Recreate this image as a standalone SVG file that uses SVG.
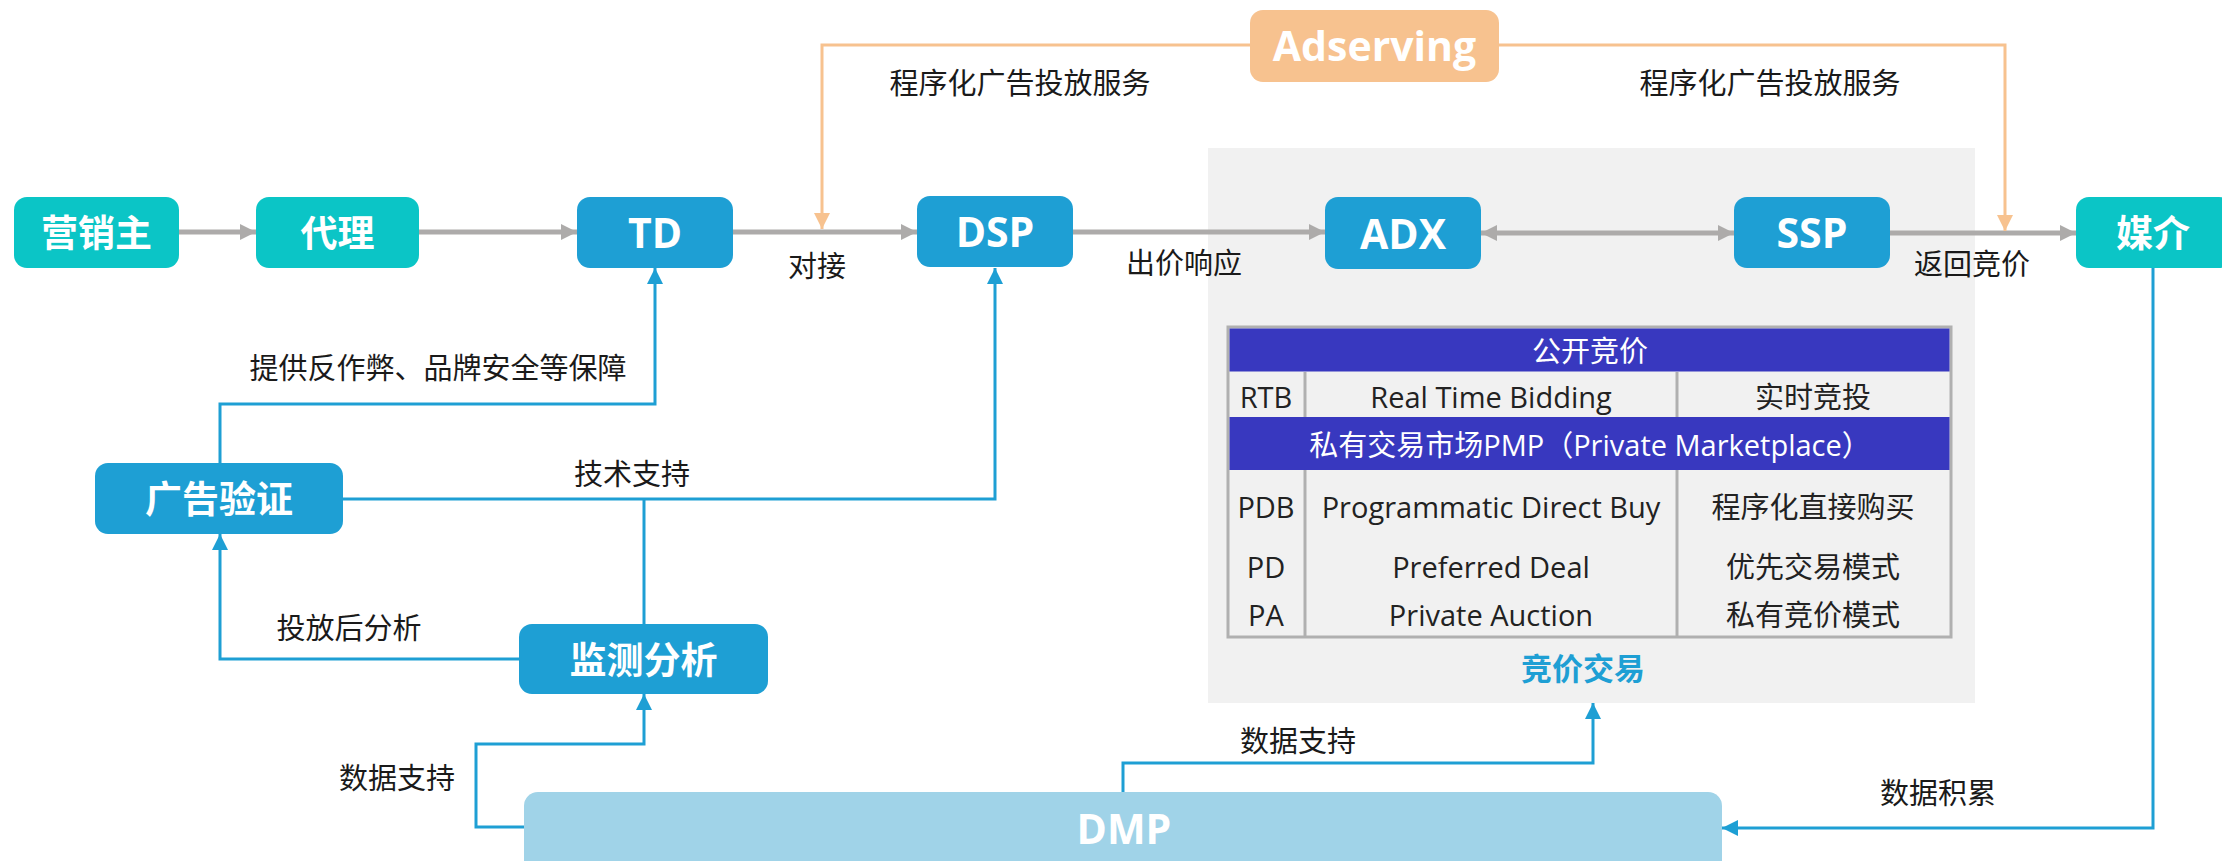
<svg xmlns="http://www.w3.org/2000/svg" width="2222" height="861" viewBox="0 0 2222 861">
<defs>
<style>
.t{font-family:"Open Sans","Noto Sans CJK SC",sans-serif;}
.lbl{font-family:"Open Sans","Noto Sans CJK SC",sans-serif;font-size:29px;fill:#1a1a1a;text-anchor:middle;dominant-baseline:central;}
.nl{font-family:"Open Sans","Noto Sans CJK SC",sans-serif;font-size:37px;font-weight:700;fill:#ffffff;text-anchor:middle;dominant-baseline:central;}
.nle{font-size:41px;}
.tb{font-family:"Open Sans","Noto Sans CJK SC",sans-serif;font-size:29px;fill:#222;text-anchor:middle;dominant-baseline:central;}
.th{font-family:"Open Sans","Noto Sans CJK SC",sans-serif;font-size:29px;fill:#ffffff;text-anchor:middle;dominant-baseline:central;}
.teal{fill:#0bc5c6;}
.blue{fill:#1e9fd4;}
.g{fill:none;stroke:#adabaa;stroke-width:5;}
.o{fill:none;stroke:#f7c28f;stroke-width:3;}
.b{fill:none;stroke:#1e9fd4;stroke-width:3;}
</style>
<marker id="ag" markerUnits="userSpaceOnUse" markerWidth="17" markerHeight="16" refX="16" refY="8" orient="auto-start-reverse"><path d="M0,0 L16,8 L0,16 z" fill="#adabaa"/></marker>
<marker id="ao" markerUnits="userSpaceOnUse" markerWidth="17" markerHeight="16" refX="16" refY="8" orient="auto"><path d="M0,0 L16,8 L0,16 z" fill="#f7c28f"/></marker>
<marker id="ab" markerUnits="userSpaceOnUse" markerWidth="17" markerHeight="16" refX="16" refY="8" orient="auto"><path d="M0,0 L16,8 L0,16 z" fill="#1e9fd4"/></marker>
</defs>
<rect width="2222" height="861" fill="#ffffff"/>

<g id="bidding-area">
<rect x="1208" y="148" width="767" height="555" fill="#f1f1f1"/>
<rect x="1228" y="327" width="723" height="310" fill="#f1f1f1" stroke="#b0b0b0" stroke-width="3"/>
<rect x="1229.5" y="328.5" width="720" height="43" fill="#3838bf"/>
<rect x="1229.5" y="417" width="720" height="53" fill="#3838bf"/>
<line x1="1305" y1="372" x2="1305" y2="417" stroke="#b0b0b0" stroke-width="3"/>
<line x1="1677" y1="372" x2="1677" y2="417" stroke="#b0b0b0" stroke-width="3"/>
<line x1="1305" y1="470" x2="1305" y2="636" stroke="#b0b0b0" stroke-width="3"/>
<line x1="1677" y1="470" x2="1677" y2="636" stroke="#b0b0b0" stroke-width="3"/>
<text class="th" x="1590" y="350">公开竞价</text>
<text class="tb" x="1266" y="396">RTB</text>
<text class="tb" x="1491" y="396">Real Time Bidding</text>
<text class="tb" x="1813" y="396">实时竞投</text>
<text class="th" x="1590" y="444">私有交易市场PMP（Private Marketplace）</text>
<text class="tb" x="1266" y="506">PDB</text>
<text class="tb" x="1491" y="506">Programmatic Direct Buy</text>
<text class="tb" x="1813" y="506">程序化直接购买</text>
<text class="tb" x="1266" y="566">PD</text>
<text class="tb" x="1491" y="566">Preferred Deal</text>
<text class="tb" x="1813" y="566">优先交易模式</text>
<text class="tb" x="1266" y="614">PA</text>
<text class="tb" x="1491" y="614">Private Auction</text>
<text class="tb" x="1813" y="614">私有竞价模式</text>
<text class="t" x="1583" y="668" font-size="31" font-weight="700" fill="#1e9fd4" text-anchor="middle" dominant-baseline="central">竞价交易</text>
</g>

<g id="connectors">
<path class="g" d="M179,232 H256" marker-end="url(#ag)"/>
<path class="g" d="M419,232 H577" marker-end="url(#ag)"/>
<path class="g" d="M733,232 H917" marker-end="url(#ag)"/>
<path class="g" d="M1073,232 H1325" marker-end="url(#ag)"/>
<path class="g" d="M1481,233 H1734" marker-start="url(#ag)" marker-end="url(#ag)"/>
<path class="g" d="M1890,233 H2076" marker-end="url(#ag)"/>
<path class="o" d="M1250,45 H822 V229" marker-end="url(#ao)"/>
<path class="o" d="M1499,45 H2005 V231" marker-end="url(#ao)"/>
<path class="b" d="M220,463 V404 H655 V268" marker-end="url(#ab)"/>
<path class="b" d="M343,499 H995 V268" marker-end="url(#ab)"/>
<path class="b" d="M644,624 V499"/>
<path class="b" d="M519,659 H220 V534" marker-end="url(#ab)"/>
<path class="b" d="M524,827 H476 V744 H644 V694" marker-end="url(#ab)"/>
<path class="b" d="M1123,792 V763 H1593 V703" marker-end="url(#ab)"/>
<path class="b" d="M2153,268 V828 H1722" marker-end="url(#ab)"/>
<text class="lbl" x="1020" y="82">程序化广告投放服务</text>
<text class="lbl" x="1770" y="82">程序化广告投放服务</text>
<text class="lbl" x="817" y="265">对接</text>
<text class="lbl" x="1184" y="262">出价响应</text>
<text class="lbl" x="1972" y="263">返回竞价</text>
<text class="lbl" x="438" y="367">提供反作弊、品牌安全等保障</text>
<text class="lbl" x="632" y="473">技术支持</text>
<text class="lbl" x="349" y="627">投放后分析</text>
<text class="lbl" x="397" y="777">数据支持</text>
<text class="lbl" x="1298" y="740">数据支持</text>
<text class="lbl" x="1938" y="792">数据积累</text>
</g>

<g id="node-yingxiaozhu"><rect class="teal" x="14" y="197" width="165" height="71" rx="13"/><text class="nl" x="96.5" y="232">营销主</text></g>
<g id="node-daili"><rect class="teal" x="256" y="197" width="163" height="71" rx="13"/><text class="nl" x="337.5" y="232">代理</text></g>
<g id="node-td"><rect class="blue" x="577" y="197" width="156" height="71" rx="13"/><text class="nl nle" x="655" y="232">TD</text></g>
<g id="node-dsp"><rect class="blue" x="917" y="196" width="156" height="71" rx="13"/><text class="nl nle" x="995" y="231">DSP</text></g>
<g id="node-adx"><rect class="blue" x="1325" y="197" width="156" height="72" rx="13"/><text class="nl nle" x="1403" y="233">ADX</text></g>
<g id="node-ssp"><rect class="blue" x="1734" y="197" width="156" height="71" rx="13"/><text class="nl nle" x="1812" y="232">SSP</text></g>
<g id="node-meijie"><rect class="teal" x="2076" y="197" width="156" height="71" rx="13"/><text class="nl" x="2153" y="232">媒介</text></g>
<g id="node-adserving"><rect x="1250" y="10" width="249" height="72" rx="13" fill="#f7c28f"/><text class="nl nle" x="1374.5" y="45">Adserving</text></g>
<g id="node-guanggaoyanzheng"><rect class="blue" x="95" y="463" width="248" height="71" rx="13"/><text class="nl" x="219" y="498">广告验证</text></g>
<g id="node-jiancefenxi"><rect class="blue" x="519" y="624" width="249" height="70" rx="13"/><text class="nl" x="643.5" y="659">监测分析</text></g>
<g id="node-dmp"><rect x="524" y="792" width="1198" height="90" rx="14" fill="#a0d3e8"/><text class="nl nle" x="1124" y="828">DMP</text></g>
</svg>
